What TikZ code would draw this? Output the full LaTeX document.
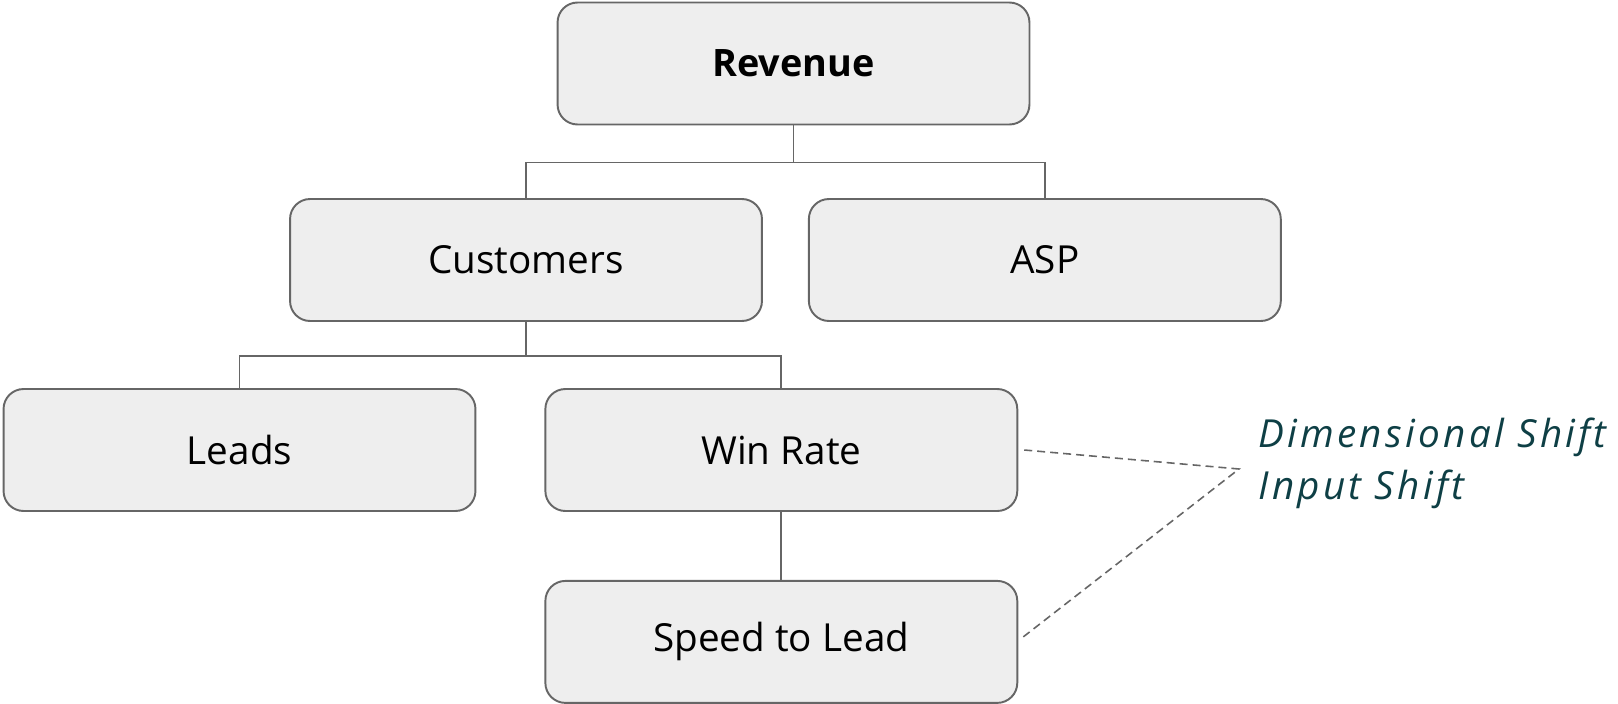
\documentclass[tikz,border=0pt]{standalone}
\usepackage{fontspec}
\setmainfont{Open Sans}
\newfontfamily\notefont[LetterSpace=8.5]{Open Sans}
\usetikzlibrary{positioning}
\definecolor{boxfill}{HTML}{EEEEEE}
\definecolor{boxline}{HTML}{666666}
\definecolor{noteteal}{HTML}{0E3F45}

\begin{document}
\begin{tikzpicture}[
    x=0.02cm, y=-0.02cm,
    box/.style={rectangle, rounded corners=0.4cm, draw=boxline, fill=boxfill, line width=1.1pt, minimum width=9.44cm, minimum height=2.44cm, font=\fontsize{22}{26}\selectfont},
    link/.style={draw=boxline, line width=1pt},
    shiftline/.style={draw=boxline, line width=0.9pt, dash pattern=on 0.16cm off 0.1cm},
    note/.style={inner sep=0pt, align=left, text=noteteal, font=\notefont\fontsize{22}{29.6}\selectfont\itshape}
]
\useasboundingbox (0,0) rectangle (1618,703);
\node[box] (revenue) at (793.5,63.5) {\fontsize{21.5}{26}\selectfont\textbf{Revenue}};
\node[box] (customers) at (526,260) {Customers};
\node[box, right=0.9cm of customers] (asp) {ASP};
\node[box] (leads) at (239.5,450) {Leads};
\node[box, right=1.36cm of leads] (winrate) {Win Rate};
\node[box, below=1.36cm of winrate] (speed) {Speed to Lead};
\node[note, anchor=west] (shifts) at (1258,463) {Dimensional Shift\\Input Shift};
\coordinate (apex) at (1239,469);
% tree links
\draw[link] (revenue.south) -- ++(0,37) -| (customers.north);
\draw[link] (revenue.south) -- ++(0,37) -| (asp.north);
\draw[link] (customers.south) -- ++(0,34) -| (leads.north);
\draw[link] (customers.south) -- ++(0,34) -| (winrate.north);
\draw[link] (winrate) -- (speed);
% dashed callout
\draw[shiftline] ([xshift=0.12cm]winrate.east) -- (apex) -- ([xshift=0.1cm,yshift=0.1cm]speed.east);
\end{tikzpicture}
\end{document}
